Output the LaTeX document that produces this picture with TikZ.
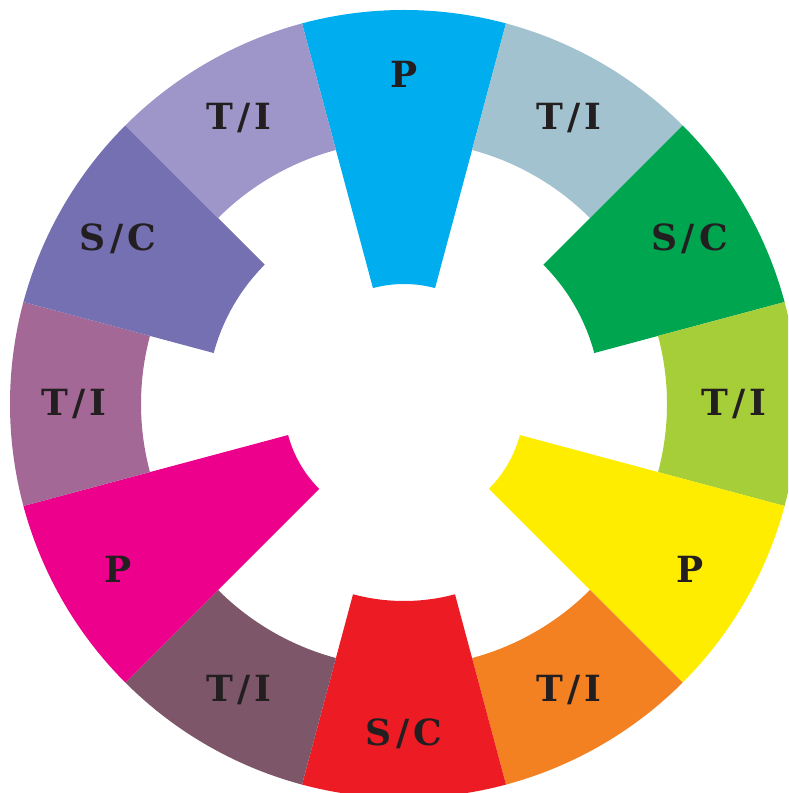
\documentclass[tikz,border=0pt]{standalone}
\usepackage{fontspec}
\newfontfamily\wheelfont[LetterSpace=12]{DejaVu Serif}
\usepackage{tikz}

\definecolor{wcyan}{RGB}{0,174,239}
\definecolor{wblue}{RGB}{162,194,208}
\definecolor{wgreen}{RGB}{0,165,80}
\definecolor{wlime}{RGB}{166,206,57}
\definecolor{wyellow}{RGB}{255,237,0}
\definecolor{worange}{RGB}{243,129,33}
\definecolor{wred}{RGB}{237,28,36}
\definecolor{wplum}{RGB}{125,86,105}
\definecolor{wmagenta}{RGB}{236,0,140}
\definecolor{wmauve}{RGB}{164,104,150}
\definecolor{wviolet}{RGB}{116,112,178}
\definecolor{wlavender}{RGB}{158,150,200}
\definecolor{wtext}{RGB}{35,31,32}

\tikzset{seglabel/.style={text=wtext,font=\wheelfont\bfseries\fontsize{20.5}{20.5}\selectfont}}

\begin{document}
\begin{tikzpicture}[x=0.02cm,y=0.02cm]
\clip (-404,-389) rectangle (384,404);
% segments: centre angle / inner radius / colour / label
\foreach \ang/\rin/\col/\lab in {90/120/wcyan/P,60/263/wblue/T{/}I,30/197/wgreen/S{/}C,0/263/wlime/T{/}I,
  -30/120/wyellow/P,-60/263/worange/T{/}I,-90/197/wred/S{/}C,-120/263/wplum/T{/}I,
  -150/120/wmagenta/P,180/263/wmauve/T{/}I,150/197/wviolet/S{/}C,120/263/wlavender/T{/}I} {
  \fill[\col] ({\ang-15}:\rin) arc[start angle={\ang-15},end angle={\ang+15},radius=\rin]
    -- ({\ang+15}:394) arc[start angle={\ang+15},end angle={\ang-15},radius=394] -- cycle;
  \node[seglabel] (seg\ang) at (\ang:330) {\lab};
}
\end{tikzpicture}
\end{document}
